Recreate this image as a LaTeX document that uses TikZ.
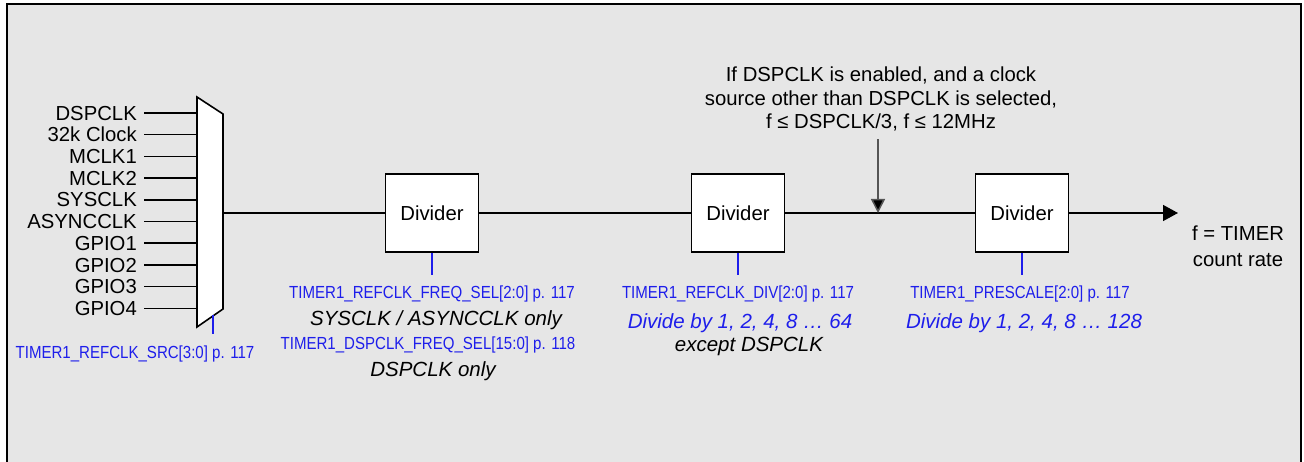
\documentclass[tikz,border=0pt]{standalone}
\usepackage{fontspec}
\setmainfont{Liberation Sans}
\newfontfamily\narrowfont{Liberation Sans}[FakeStretch=0.86]
\usetikzlibrary{arrows.meta}
\definecolor{bg}{RGB}{230,230,230}
\definecolor{regblue}{RGB}{30,30,235}
\definecolor{arrgray}{RGB}{85,85,85}
\begin{document}
\begin{tikzpicture}[x=1pt,y=-1pt,
  lbl/.style={font=\fontsize{20.3}{23.5}\selectfont, inner sep=0pt},
  reg/.style={font=\narrowfont\fontsize{17.5}{20}\selectfont, text=regblue, inner sep=0pt, anchor=base},
  note/.style={font=\fontsize{20.5}{23}\selectfont\itshape, inner sep=0pt, anchor=base},
  divbox/.style={draw, fill=white, line width=1.6pt, minimum width=93pt, minimum height=78pt,
    inner sep=0pt, font=\fontsize{20.3}{23}\selectfont},
  wire/.style={line width=1.5pt},
  tick/.style={draw=regblue, line width=1.8pt}]
\useasboundingbox (0,0) rectangle (1304,462);
% frame
\fill[bg] (7,4) rectangle (1301,462);
\draw[line width=2pt] (7,462) -- (7,4) -- (1301,4) -- (1301,462);
% multiplexer
\draw[fill=white, line width=1.6pt] (197,97) -- (223,114) -- (223,309) -- (197,327) -- cycle;
\coordinate (muxout) at (223,213);
\coordinate (muxsel) at (213,315.5);
% inputs
\foreach \t [count=\i] in {DSPCLK,32k Clock,MCLK1,MCLK2,SYSCLK,ASYNCCLK,GPIO1,GPIO2,GPIO3,GPIO4}{
  \pgfmathsetmacro{\yy}{113+21.7*(\i-1)}
  \node[lbl, anchor=base east] (in\i) at (137,\yy+7.2) {\t};
  \coordinate (mi\i) at (197,\yy);
  \draw[wire] ([xshift=7pt]in\i.east |- mi\i) -- (mi\i);
}
% dividers
\node[divbox] (d1) at (432,213) {Divider};
\node[divbox] (d2) at (738,213) {Divider};
\node[divbox] (d3) at (1022,213) {Divider};
\coordinate (join) at (878,213);
\coordinate (outpt) at (1178,213);
\draw[wire] (muxout) -- (d1.west);
\draw[wire] (d1.east) -- (d2.west);
\draw[wire] (d2.east) -- (d3.west);
\draw[wire, -{Triangle[length=15pt,width=16pt]}] (d3.east) -- (outpt);
% condition note
\node[lbl, align=center] (cond) at (881,99)
  {If DSPCLK is enabled, and a clock\\source other than DSPCLK is selected,\\f ≤ DSPCLK/3, f ≤ 12MHz};
\draw[draw=arrgray, line width=1.5pt, -{Triangle[length=14pt,width=14pt,fill=black]}]
  ([yshift=-8pt]join |- cond.south) -- (join);
% output
\node[lbl, align=center, font=\fontsize{20.3}{26}\selectfont] (fout) at (1238,246) {f = TIMER\\count rate};
% register ticks
\draw[tick] (muxsel) -- ++(0,19);
\draw[tick] (d1.south) -- ++(0,22);
\draw[tick] (d2.south) -- ++(0,22);
\draw[tick] (d3.south) -- ++(0,22);
% register labels
\node[reg] (r0) at (135,358.3) {TIMER1\_REFCLK\_SRC[3:0] p. 117};
\node[reg] (r1) at (432,298.3) {TIMER1\_REFCLK\_FREQ\_SEL[2:0] p. 117};
\node[note] (n1) at (436,325.2) {SYSCLK / ASYNCCLK only};
\node[reg] (r2) at (428,349.3) {TIMER1\_DSPCLK\_FREQ\_SEL[15:0] p. 118};
\node[note] (n2) at (433,376.2) {DSPCLK only};
\node[reg] (r3) at (738,298.3) {TIMER1\_REFCLK\_DIV[2:0] p. 117};
\node[note, text=regblue] (n3) at (740,328.2) {Divide by 1, 2, 4, 8 … 64};
\node[note] (n4) at (749,351.2) {except DSPCLK};
\node[reg] (r4) at (1020,298.3) {TIMER1\_PRESCALE[2:0] p. 117};
\node[note, text=regblue] (n5) at (1024,328.2) {Divide by 1, 2, 4, 8 … 128};
\end{tikzpicture}
\end{document}
